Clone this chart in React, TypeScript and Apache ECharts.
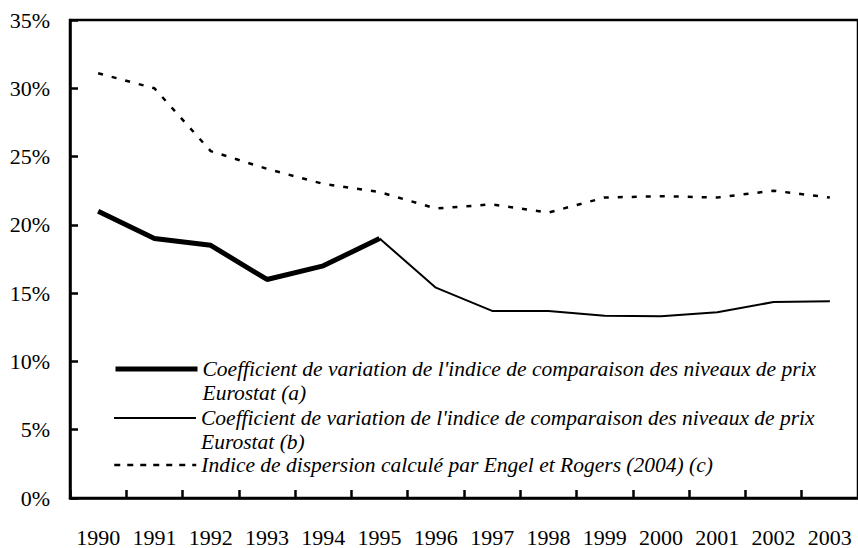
import React, { useEffect, useRef } from "react";
import * as echarts from "echarts";

const years = ["1990", "1991", "1992", "1993", "1994", "1995", "1996", "1997", "1998", "1999", "2000", "2001", "2002", "2003"];
const seriesA = [21.0, 19.0, 18.5, 16.0, 17.0, 19.0, null, null, null, null, null, null, null, null];
const seriesB = [null, null, null, null, null, 19.0, 15.4, 13.7, 13.7, 13.35, 13.3, 13.6, 14.35, 14.4];
const seriesC = [31.1, 30.0, 25.4, 24.1, 23.0, 22.4, 21.2, 21.5, 20.9, 22.0, 22.1, 22.0, 22.5, 22.0];

const nameA = "Coefficient de variation de l'indice de comparaison des niveaux de prix\nEurostat (a)";
const nameB = "Coefficient de variation de l'indice de comparaison des niveaux de prix\nEurostat (b)";
const nameC = "Indice de dispersion calculé par Engel et Rogers (2004) (c)";

const FONT = "Times";

export default function App() {
  const ref = useRef<HTMLDivElement>(null);
  useEffect(() => {
    if (!ref.current) return;
    const chart = echarts.init(ref.current, null, { renderer: "svg" });
    const mkLegend = (name: string, top: number, twoLine: boolean, lineStyle: any) => ({
      data: [name],
      orient: "vertical",
      left: 113,
      top,
      padding: 0,
      itemWidth: 82,
      itemHeight: 14,
      itemGap: 5,
      itemStyle: { opacity: 0 },
      lineStyle,
      formatter: twoLine ? (n: string) => "\n" + n : undefined,
      textStyle: {
        fontFamily: FONT,
        fontStyle: "italic",
        fontSize: 21.5,
        color: "#000",
        lineHeight: 24,
      },
    });
    chart.setOption({
      animation: false,
      backgroundColor: "#fff",
      grid: {
        left: 70,
        top: 20,
        right: -10,
        bottom: 45,
        show: true,
        borderColor: "#000",
        borderWidth: 2.5,
        backgroundColor: "transparent",
      },
      legend: [
        mkLegend(nameA, 333, true, { color: "#000", width: 5, type: "solid" }),
        mkLegend(nameB, 382, true, { color: "#000", width: 2, type: "solid" }),
        mkLegend(nameC, 453, false, { color: "#000", width: 2.5, type: [6, 7] }),
      ],
      xAxis: {
        type: "category",
        data: years,
        boundaryGap: true,
        axisLine: { lineStyle: { color: "#000", width: 2.5 } },
        axisTick: { show: true, inside: true, length: 8, lineStyle: { color: "#000", width: 2.5 } },
        axisLabel: { interval: 0, margin: 28, fontFamily: FONT, fontSize: 22, color: "#000" },
        splitLine: { show: false },
      },
      yAxis: {
        type: "value",
        min: 0,
        max: 35,
        interval: 5,
        axisLine: { show: true, lineStyle: { color: "#000", width: 2.5 } },
        axisTick: { show: true, inside: true, length: 8, lineStyle: { color: "#000", width: 2.5 } },
        axisLabel: { margin: 20, fontFamily: FONT, fontSize: 22, color: "#000", formatter: "{value}%" },
        splitLine: { show: false },
      },
      series: [
        { name: nameA, type: "line", data: seriesA, symbol: "none", lineStyle: { color: "#000", width: 5 }, itemStyle: { color: "#000" } },
        { name: nameB, type: "line", data: seriesB, symbol: "none", lineStyle: { color: "#000", width: 2 }, itemStyle: { color: "#000" } },
        { name: nameC, type: "line", data: seriesC, symbol: "none", lineStyle: { color: "#000", width: 2.5, type: [5, 9] }, itemStyle: { color: "#000" } },
      ],
    });
    return () => chart.dispose();
  }, []);
  return (
    <div ref={ref} style={{ position: "fixed", left: 0, top: 0, width: 858, height: 548, background: "#fff" }} />
  );
}
